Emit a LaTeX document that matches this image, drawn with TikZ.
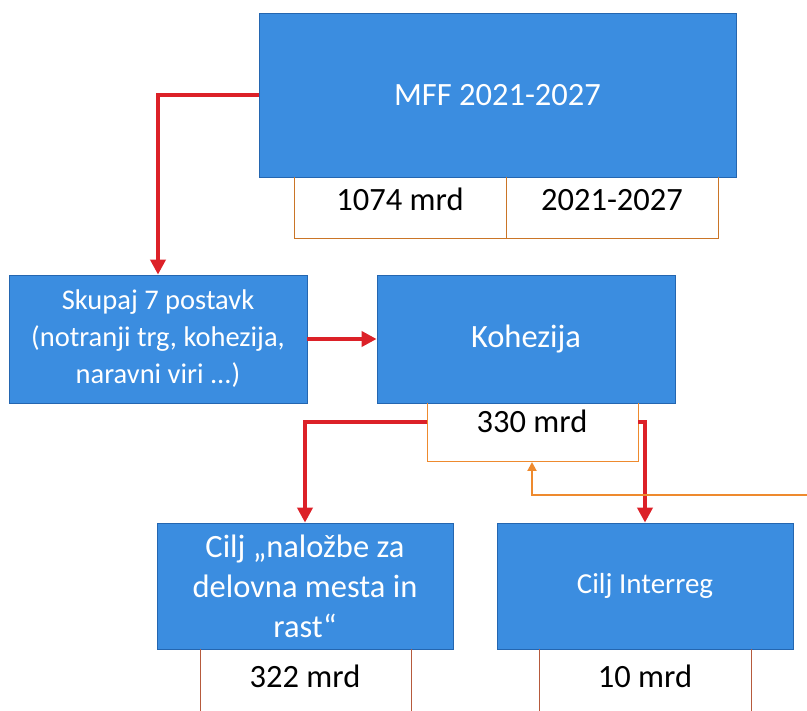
\documentclass[tikz,border=0pt]{standalone}
\usepackage{fontspec}
\setmainfont{Carlito}
\usetikzlibrary{arrows.meta}
\definecolor{boxblue}{HTML}{3B8DE0}
\definecolor{boxedge}{HTML}{2466B0}
\definecolor{arrowred}{HTML}{DC2128}
\definecolor{lineorange}{HTML}{EE8A2E}
\definecolor{linebrown}{HTML}{B65A3C}
\begin{document}
\begin{tikzpicture}[x=1pt,y=-1pt,
  bluebox/.style={draw=boxedge,line width=0.8pt,fill=boxblue,text=white,align=center,inner sep=0pt},
  bigfont/.style={font=\fontsize{32.5}{40}\selectfont},
  smallfont/.style={font=\fontsize{28.5}{37}\selectfont},
  sumtext/.style={bigfont,text=black,inner sep=0pt,anchor=base},
  redarrow/.style={draw=arrowred,line width=4pt,-{Triangle[length=15pt,width=15pt]}},
  orangearrow/.style={draw=lineorange,line width=2pt,-{Triangle[length=9pt,width=9pt]}},
  tableline/.style={draw=lineorange!85!black,line width=1pt},
  cellline/.style={draw=linebrown,line width=1pt}]
  \useasboundingbox (0,0) rectangle (807,711);
  \node[bluebox,bigfont,minimum width=477,minimum height=164] (mff) at (497.5,95) {MFF 2021-2027};
  \node[bluebox,smallfont,minimum width=298,minimum height=128] (skupaj) at (158,339)
    {Skupaj 7 postavk\\(notranji trg, kohezija,\\naravni viri ...)};
  \node[bluebox,bigfont,minimum width=298,minimum height=128] (kohezija) at (526,339) {Kohezija};
  \node[bluebox,bigfont,minimum width=296,minimum height=126] (cilj) at (305,586)
    {Cilj „naložbe za\\delovna mesta in\\rast“};
  \node[bluebox,font=\fontsize{29}{36}\selectfont,minimum width=296,minimum height=126] (interreg) at (645,586) {Cilj Interreg};
  \draw[tableline] (294,177) |- (718,239) -- (718,177);
  \draw[tableline] (506,177) -- (506,239);
  \node[sumtext] (mffsum) at (400,211) {1074 mrd};
  \node[sumtext] (mffyears) at (612,211) {2021-2027};
  \draw[tableline,draw=lineorange] (427,403) |- (638,462) -- (638,403);
  \node[sumtext] (kohsum) at (532,433) {330 mrd};
  \draw[cellline] (200,649) -- (200,711);
  \draw[cellline] (411,649) -- (411,711);
  \draw[cellline] (539,649) -- (539,711);
  \draw[cellline] (751,649) -- (751,711);
  \node[sumtext] (ciljsum) at (305,687) {322 mrd};
  \node[sumtext] (interregsum) at (645,687) {10 mrd};
  \coordinate (kohleft) at (427,422);
  \coordinate (kohright) at (638,422);
  \coordinate (kohbottom) at (532,462);
  \coordinate (orangein) at (807,495);
  \draw[redarrow] (mff.west) -| (skupaj.north);
  \draw[redarrow] (skupaj.east) -- (kohezija.west);
  \draw[redarrow] (kohleft) -| (cilj.north);
  \draw[redarrow] (kohright) -| (interreg.north);
  \draw[orangearrow] (orangein) -| (kohbottom);
\end{tikzpicture}
\end{document}
